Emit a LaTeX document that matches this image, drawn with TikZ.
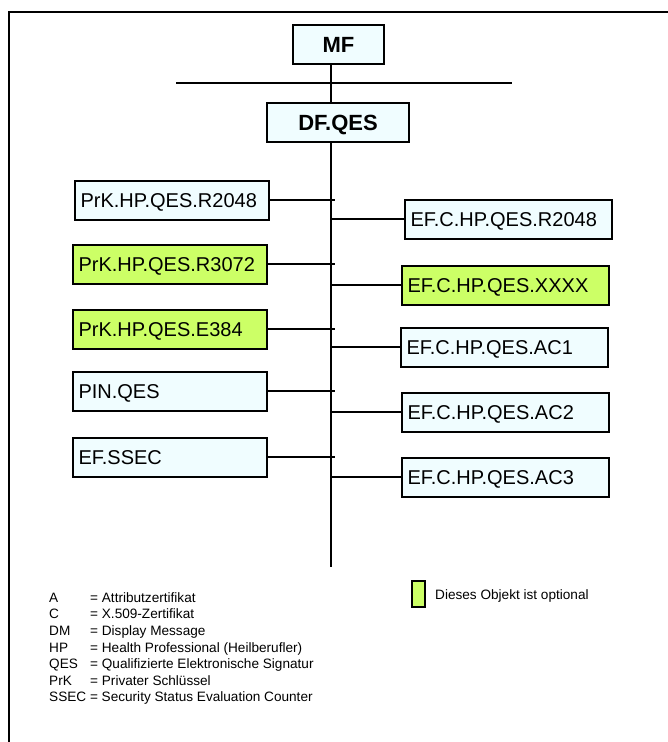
\documentclass[tikz,border=0pt]{standalone}
\usepackage{fontspec}
\setmainfont{Liberation Sans}
\definecolor{boxblue}{RGB}{240,253,255}
\definecolor{optgreen}{RGB}{204,255,102}
\tikzset{
  objbox/.style={draw=black, line width=2pt, fill=boxblue, anchor=north west,
    inner xsep=6pt, inner ysep=0pt, align=left, minimum height=39pt,
    text height=14.3pt, text depth=0pt,
    font=\fontsize{20}{24}\selectfont},
  leftbox/.style={objbox, text width=182pt},
  rightbox/.style={objbox, text width=195pt},
  optional/.style={fill=optgreen},
  topbox/.style={draw=black, line width=2pt, fill=boxblue, anchor=north west,
    inner sep=0pt, text height=15.8pt, text depth=0pt,
    font=\fontsize{22}{26}\selectfont\bfseries},
  conn/.style={line width=2pt},
  trunkline/.style={line width=2pt},
  legendtext/.style={anchor=base west, inner sep=0pt, font=\fontsize{13.6}{16}\selectfont}
}
\begin{document}
\begin{tikzpicture}[x=1pt,y=-1pt]
\useasboundingbox (0,0) rectangle (667,742);
% frame (clipped at right and bottom)
\draw[line width=2pt] (9,745) -- (9,12) -- (670,12);

% top boxes
\node[topbox, minimum width=91pt, minimum height=39pt] (MF) at (292,24) {MF};
\node[topbox, minimum width=142pt, minimum height=39pt] (DF) at (266,102) {DF.QES};

\coordinate (hl) at (176,83);
\coordinate (hr) at (512,83);
\coordinate (tx) at (331,0);
\coordinate (tend) at (331,567);
\coordinate (lx) at (335,0);

\draw[conn] (hl) -- (hr);
\draw[conn] (MF.south -| tx) -- (DF.north -| tx);
\draw[trunkline] (DF.south -| tx) -- (tend);

% left boxes
\node[leftbox] (L1) at (73.5,179.5) {PrK.HP.QES.R2048};
\node[leftbox, optional] (L2) at (71.5,243.5) {PrK.HP.QES.R3072};
\node[leftbox, optional] (L3) at (71.5,308.5) {PrK.HP.QES.E384};
\node[leftbox] (L4) at (71.5,370.5) {PIN.QES};
\node[leftbox] (L5) at (71.5,436.5) {EF.SSEC};

% right boxes
\node[rightbox] (R1) at (403.5,198.5) {EF.C.HP.QES.R2048};
\node[rightbox, optional] (R2) at (400.5,264.5) {EF.C.HP.QES.XXXX};
\node[rightbox] (R3) at (399.5,326.5) {EF.C.HP.QES.AC1};
\node[rightbox] (R4) at (400.5,391.5) {EF.C.HP.QES.AC2};
\node[rightbox] (R5) at (400.5,456.5) {EF.C.HP.QES.AC3};

\foreach \n in {L1,L2,L3,L4,L5}{
  \draw[conn] (\n.east) -- (\n.east -| lx);
}
\foreach \n in {R1,R2,R3,R4,R5}{
  \draw[conn] (\n.west -| tx) -- (\n.west);
}

% legend
\node[legendtext] (kA) at (49,602.3) {A};
\node[legendtext] (vA) at (90,602.3) {= Attributzertifikat};
\node[legendtext] (kC) at (49,618.9) {C};
\node[legendtext] (vC) at (90,618.9) {= X.509-Zertifikat};
\node[legendtext] (kDM) at (49,635.5) {DM};
\node[legendtext] (vDM) at (90,635.5) {= Display Message};
\node[legendtext] (kHP) at (49,652.1) {HP};
\node[legendtext] (vHP) at (90,652.1) {= Health Professional (Heilberufler)};
\node[legendtext] (kQES) at (49,668.7) {QES};
\node[legendtext] (vQES) at (90,668.7) {= Qualifizierte Elektronische Signatur};
\node[legendtext] (kPrK) at (49,685.3) {PrK};
\node[legendtext] (vPrK) at (90,685.3) {= Privater Schlüssel};
\node[legendtext] (kSSEC) at (49,701.9) {SSEC = Security Status Evaluation Counter};

\node[draw=black, line width=2pt, fill=optgreen, anchor=north west, inner sep=0pt,
  minimum width=13pt, minimum height=26pt] (optbox) at (410.5,579.5) {};
\node[legendtext] (opttext) at (435,599.7) {Dieses Objekt ist optional};
\end{tikzpicture}
\end{document}
